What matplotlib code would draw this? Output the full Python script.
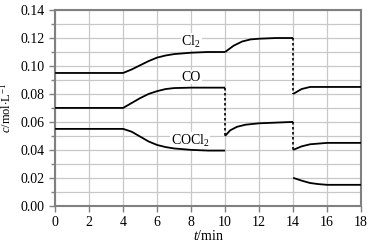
import matplotlib
matplotlib.use("Agg")
import matplotlib.pyplot as plt
from matplotlib.ticker import MultipleLocator

plt.rcParams['font.family'] = ['Liberation Serif', 'DejaVu Serif']
plt.rcParams['mathtext.fontset'] = 'custom'
plt.rcParams['mathtext.rm'] = 'Liberation Serif'
plt.rcParams['mathtext.it'] = 'Liberation Serif:italic'

# Cl2
cl2_t1 = [0, 4, 4.5, 5, 5.5, 6, 6.5, 7, 8, 9, 10]
cl2_v1 = [0.095, 0.095, 0.0975, 0.1005, 0.1035, 0.106, 0.1075, 0.1085, 0.1095, 0.11, 0.11]
cl2_t2 = [10, 10.5, 11, 11.5, 12, 13, 14]
cl2_v2 = [0.11, 0.1145, 0.1175, 0.119, 0.1195, 0.12, 0.12]
cl2_t3 = [14, 14.5, 15, 16, 18]
cl2_v3 = [0.08, 0.0835, 0.085, 0.085, 0.085]

# CO
co_t1 = [0, 4, 4.5, 5, 5.5, 6, 6.5, 7, 8, 9, 10]
co_v1 = [0.07, 0.07, 0.0735, 0.077, 0.080, 0.082, 0.0835, 0.0842, 0.0845, 0.0845, 0.0845]
co_t2 = [10, 10.3, 10.7, 11.2, 12, 13, 14]
co_v2 = [0.05, 0.054, 0.0565, 0.058, 0.059, 0.0595, 0.06]
co_t3 = [14, 14.5, 15, 16, 18]
co_v3 = [0.04, 0.0425, 0.044, 0.045, 0.045]

# COCl2
cocl2_t1 = [0, 4, 4.5, 5, 5.5, 6, 6.5, 7, 8, 9, 10]
cocl2_v1 = [0.055, 0.055, 0.053, 0.0495, 0.046, 0.0435, 0.042, 0.041, 0.040, 0.0395, 0.0395]
cocl2_t3 = [14, 14.5, 15, 15.5, 16, 18]
cocl2_v3 = [0.02, 0.018, 0.0163, 0.0155, 0.015, 0.015]

# dotted jumps (time, from, to)
jumps_t = [10, 14, 14]
jumps_from = [0.0845, 0.12, 0.06]
jumps_to = [0.05, 0.08, 0.04]

labels = ['Cl$_2$', 'CO', 'COCl$_2$']
label_t = [8.0, 8.0, 7.95]
label_v = [0.1175, 0.092, 0.0465]

fig = plt.figure(figsize=(3.7, 2.45), dpi=100)
ax = fig.add_axes([0.149, 0.160, 0.827, 0.799])

lw = 1.3
for t, v in [(cl2_t1, cl2_v1), (cl2_t2, cl2_v2), (cl2_t3, cl2_v3),
             (co_t1, co_v1), (co_t2, co_v2), (co_t3, co_v3),
             (cocl2_t1, cocl2_v1), (cocl2_t3, cocl2_v3)]:
    ax.plot(t, v, color='black', lw=lw, solid_capstyle='butt', zorder=3)

for t, a, b in zip(jumps_t, jumps_from, jumps_to):
    ax.plot([t, t], [a, b], color='black', lw=1.2, linestyle=(0, (1.5, 1.5)), zorder=3)

for s, t, v in zip(labels, label_t, label_v):
    ax.text(t, v, s, ha='center', va='center', fontsize=10, zorder=2,
            bbox=dict(facecolor='white', edgecolor='none', pad=0.5))

ax.set_xlim(0, 18)
ax.set_ylim(0, 0.14)
ax.xaxis.set_major_locator(MultipleLocator(2))
ax.yaxis.set_major_locator(MultipleLocator(0.02))
ax.yaxis.set_minor_locator(MultipleLocator(0.01))
ax.yaxis.set_major_formatter(matplotlib.ticker.FormatStrFormatter('%.2f'))
ax.grid(True, which='both', color='#c8c8c8', lw=0.9, zorder=0)
ax.set_axisbelow(True)
for sp in ax.spines.values():
    sp.set_color('#808080')
    sp.set_linewidth(1.5)
ax.tick_params(which='both', direction='out', color='#808080', width=1.0)
ax.tick_params(which='major', length=4, labelsize=10)
ax.tick_params(which='minor', length=3)
ax.set_xlabel('$\\mathit{t}$/min', fontsize=10, labelpad=0)
ax.set_ylabel('$\\mathit{c}$/mol$\\cdot$L$^{-1}$', fontsize=9, labelpad=5)

fig.savefig('out.png', dpi=100)
